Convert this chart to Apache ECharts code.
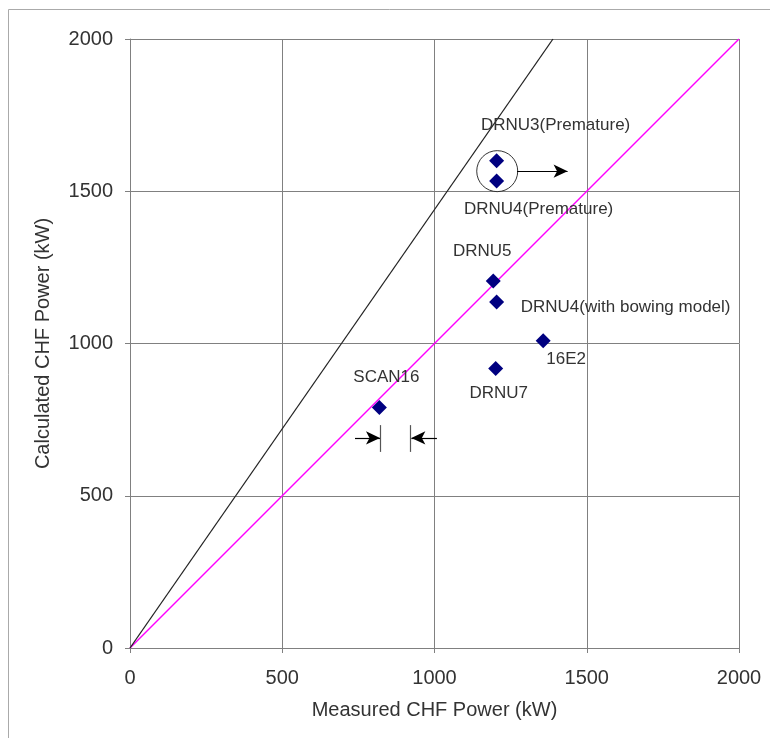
<!DOCTYPE html>
<html><head><meta charset="utf-8">
<script src="https://cdn.jsdelivr.net/npm/echarts@6/dist/echarts.min.js"></script>
<style>html,body{margin:0;padding:0;background:#fff}#c{width:770px;height:738px}</style>
</head><body><div id="c"></div>
<script>
// Data
const pointNames = ['DRNU3(Premature)','DRNU4(Premature)','DRNU5','DRNU4(with bowing model)','16E2','DRNU7','SCAN16'];
const measured   = [1204, 1204, 1193, 1204, 1357, 1201, 819];
const calculated = [1600, 1534, 1205, 1136, 1009, 918, 790];
const idealLine = [[0,0],[2000,2000]];
const corrLimitLine = [[0,0],[1389,2000]];
const xTicks = [0,500,1000,1500,2000];
const yTicks = [0,500,1000,1500,2000];
// annotation geometry in data units
const prematureCircle = [1206, 1566];
const prematureArrow = [[1271,1566],[1437,1566]];
const scanBars = [[[823,732],[823,644]],[[922,732],[922,644]]];
const scanArrows = [[[739,690],[821,690]],[[1008,690],[924,690]]];
const corrLabelPos = [598, 1253];

const labelOffsets = [[59,-35],[42,28],[-11,-30],[129,5],[23,19],[3,25],[7,-30]];

const font = 'Liberation Sans, Arial, sans-serif';
const txt = {color:'#333', fontFamily:font, fontSize:17};
const axTxt = {color:'#333', fontFamily:font, fontSize:20};

const scatterData = pointNames.map((n,i)=>({
  name:n, value:[measured[i], calculated[i]],
  label:{show:true, position:'inside', offset:labelOffsets[i], formatter:n, ...txt}
}));

const chart = echarts.init(document.getElementById('c'));
chart.setOption({
  animation:false,
  graphic:[{type:'rect', shape:{x:8.5,y:9.5,width:800,height:800}, style:{fill:'none', stroke:'#aaa', lineWidth:1}, z:-10}],
  grid:{left:130, right:31, top:39, bottom:90},
  xAxis:{type:'value', min:0, max:2000, interval:500,
    name:'Measured CHF Power (kW)', nameLocation:'middle', nameGap:52,
    nameTextStyle:{...axTxt},
    axisLine:{lineStyle:{color:'#808080'}}, axisTick:{show:true, length:5, lineStyle:{color:'#808080'}},
    axisLabel:{...axTxt, margin:20, formatter:v=>xTicks.includes(v)?String(v):''},
    splitLine:{show:true, lineStyle:{color:'#808080', width:1}}},
  yAxis:{type:'value', min:0, max:2000, interval:500,
    name:'Calculated CHF Power (kW)', nameLocation:'middle', nameGap:77,
    nameTextStyle:{...axTxt},
    axisLine:{show:true, lineStyle:{color:'#808080'}}, axisTick:{show:true, length:5, lineStyle:{color:'#808080'}},
    axisLabel:{...axTxt, margin:17, formatter:v=>yTicks.includes(v)?String(v):''},
    splitLine:{show:true, lineStyle:{color:'#808080', width:1}}},
  series:[
    {type:'line', data:idealLine, symbol:'none', lineStyle:{color:'#ff00ff', width:1.5}, z:2},
    {type:'line', data:corrLimitLine, symbol:'none', lineStyle:{color:'#222', width:1.3}, z:2,
      markPoint:{symbol:'none', silent:true, data:[{coord:corrLabelPos, label:{show:true, formatter:'Correlation\nLimit', align:'left', lineHeight:23, ...txt}}]}},
    {type:'scatter', data:[prematureCircle], symbol:'circle', symbolSize:41,
      itemStyle:{color:'rgba(0,0,0,0)', borderColor:'#333', borderWidth:1, opacity:1}, z:3,
      markLine:{silent:true, symbol:['none','arrow'], symbolSize:[10,14], label:{show:false},
        lineStyle:{color:'#000', width:1.2, type:'solid'},
        data:[[{coord:prematureArrow[0]},{coord:prematureArrow[1]}],
              [{coord:scanArrows[0][0]},{coord:scanArrows[0][1]}],
              [{coord:scanArrows[1][0]},{coord:scanArrows[1][1]}]]}},
    {type:'line', data:[], z:3,
      markLine:{silent:true, symbol:['none','none'], label:{show:false},
        lineStyle:{color:'#555', width:1.2, type:'solid'},
        data:scanBars.map(b=>[{coord:b[0]},{coord:b[1]}])}},
    {type:'scatter', data:scatterData, symbol:'diamond', symbolSize:15,
      itemStyle:{color:'#000080', opacity:1}, z:5}
  ]
});
</script></body></html>
